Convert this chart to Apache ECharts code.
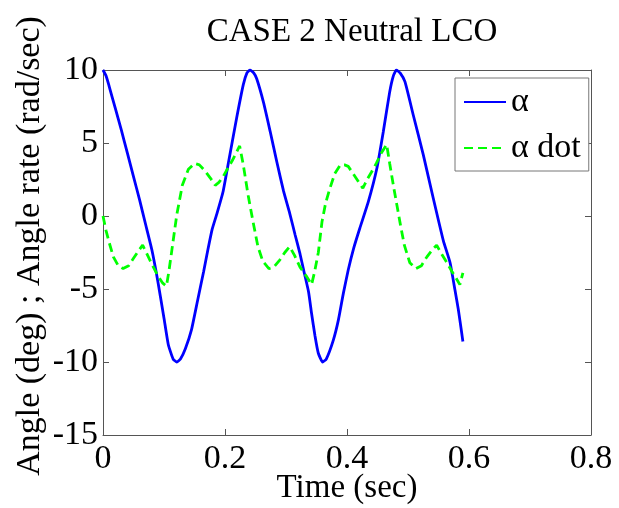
<!DOCTYPE html>
<html><head><meta charset="utf-8">
<script src="https://cdn.jsdelivr.net/npm/echarts@6/dist/echarts.min.js"></script>
<style>html,body{margin:0;padding:0;background:#fff}#c{width:619px;height:508px}</style>
</head><body><div id="c"></div>
<script>
const titleText = 'CASE 2 Neutral LCO';
const xName = 'Time (sec)';
const yName = 'Angle (deg) ; Angle rate (rad/sec)';
const seriesNames = ['\u03b1', '\u03b1 dot'];
const xTicks = [0, 0.2, 0.4, 0.6, 0.8];
const yTicks = [-15, -10, -5, 0, 5, 10];

const alphaT = [0.000,0.005,0.010,0.020,0.030,0.040,0.050,0.060,0.070,0.080,0.090,0.100,0.107,0.115,0.121,0.127,0.135,0.145,0.155,0.165,0.172,0.179,0.187,0.197,0.208,0.219,0.230,0.236,0.241,0.247,0.252,0.263,0.274,0.285,0.296,0.306,0.315,0.323,0.330,0.337,0.342,0.3475,0.353,0.360,0.366,0.3776,0.386,0.394,0.402,0.411,0.421,0.435,0.449,0.4595,0.470,0.476,0.481,0.487,0.495,0.5087,0.525,0.5415,0.558,0.569,0.577,0.5825,0.588,0.590];
const alphaV = [10,9.6,8.9,7.4,5.9,4.3,2.7,1.1,-0.6,-2.3,-4.5,-7.0,-8.8,-9.8,-10,-9.8,-9.1,-7.8,-5.8,-3.8,-2.3,-0.9,0.2,1.7,4.2,6.7,9.0,9.8,10,9.8,9.4,7.8,5.8,3.7,1.7,0.2,-1.3,-2.6,-3.9,-5.2,-6.7,-8.2,-9.4,-10,-9.8,-8.5,-7.1,-5.3,-3.7,-2.2,-0.84,0.98,3.27,5.77,8.5,9.6,10,9.8,9.2,6.9,4.2,1.2,-1.7,-3.2,-5.07,-6.4,-8.0,-8.6];

const rateT = [0,0.005,0.01,0.017,0.025,0.033,0.042,0.05,0.058,0.065,0.072,0.08,0.09,0.098,0.104,0.108,0.113,0.121,0.13,0.14,0.15,0.158,0.167,0.176,0.184,0.19,0.197,0.205,0.212,0.218,0.224,0.23,0.238,0.246,0.254,0.262,0.272,0.28,0.29,0.298,0.306,0.314,0.323,0.333,0.342,0.347,0.353,0.359,0.365,0.372,0.38,0.389,0.396,0.402,0.41,0.418,0.426,0.433,0.44,0.448,0.456,0.465,0.47,0.476,0.482,0.488,0.494,0.503,0.513,0.522,0.531,0.54,0.547,0.555,0.564,0.572,0.578,0.585,0.59];
const rateV = [0,-1.0,-1.8,-2.8,-3.4,-3.6,-3.4,-2.9,-2.4,-2.0,-2.6,-3.3,-4.1,-4.6,-4.8,-3.8,-2.3,0.1,2.1,3.2,3.6,3.5,3.1,2.6,2.1,2.3,2.7,3.3,3.8,4.3,4.8,3.5,1.4,-0.4,-2.1,-3.1,-3.6,-3.5,-3.0,-2.5,-2.1,-2.7,-3.5,-4.1,-4.7,-3.8,-2.5,-0.4,0.9,1.9,2.9,3.5,3.5,3.4,2.9,2.4,1.9,2.5,3.0,3.6,4.3,4.9,3.6,2.1,0.7,-0.7,-2.0,-3.2,-3.6,-3.4,-2.8,-2.3,-2.0,-2.6,-3.2,-3.8,-4.2,-4.7,-3.9];

const FONT = '"Liberation Serif", "Times New Roman", serif';
const AX = '#555';
const zip = (a, b) => a.map((t, i) => [t, b[i]]);

const chart = echarts.init(document.getElementById('c'), null, {renderer: 'canvas'});

function xAx(pos, labels) {
  return {
    type: 'value', position: pos,
    min: xTicks[0], max: xTicks[xTicks.length - 1], interval: xTicks[1] - xTicks[0],
    axisLine: {show: true, onZero: false, lineStyle: {color: AX, width: 1}},
    axisTick: {show: true, inside: true, length: 6, lineStyle: {color: AX}},
    axisLabel: {show: labels, color: '#000', fontFamily: FONT, fontSize: 34, margin: 7},
    splitLine: {show: false},
    name: labels ? xName : '', nameLocation: 'middle', nameGap: 37, nameMoveOverlap: false,
    nameTextStyle: {color: '#000', fontFamily: FONT, fontSize: 33}
  };
}
function yAx(pos, labels) {
  return {
    type: 'value', position: pos,
    min: yTicks[0], max: yTicks[yTicks.length - 1], interval: yTicks[1] - yTicks[0],
    axisLine: {show: true, onZero: false, lineStyle: {color: AX, width: 1}},
    axisTick: {show: true, inside: true, length: 6, lineStyle: {color: AX}},
    axisLabel: {show: labels, color: '#000', fontFamily: FONT, fontSize: 34, margin: 5},
    splitLine: {show: false}
  };
}

chart.setOption({
  animation: false,
  backgroundColor: '#fff',
  title: {
    text: titleText, left: 347, top: 11, textAlign: 'center',
    textStyle: {color: '#000', fontFamily: FONT, fontSize: 33, fontWeight: 'normal'}
  },
  grid: {left: 103, right: 28, top: 70, bottom: 73, containLabel: false, outerBoundsMode: 'none'},
  xAxis: [xAx('bottom', true), xAx('top', false)],
  yAxis: [yAx('left', true), yAx('right', false)],
  legend: {
    orient: 'vertical', left: 455, top: 78,
    padding: [7, 8, 6, 8], itemWidth: 42, itemHeight: 14, itemGap: 12,
    backgroundColor: '#fff', borderColor: '#777', borderWidth: 1, borderRadius: 0,
    textStyle: {color: '#000', fontFamily: FONT, fontSize: 34, lineHeight: 34},
    data: seriesNames
  },
  graphic: [{
    type: 'text', x: 30, y: 246, rotation: Math.PI / 2,
    style: {text: yName, fill: '#000', font: '34px ' + FONT, align: 'center', verticalAlign: 'middle', textAlign: 'center', textVerticalAlign: 'middle'}
  }],
  series: [
    {
      name: seriesNames[0], type: 'line', data: zip(alphaT, alphaV),
      showSymbol: false, smooth: 0.15, itemStyle: {color: '#0000ff', opacity: 0},
      lineStyle: {color: '#0000ff', width: 2.8}
    },
    {
      name: seriesNames[1], type: 'line', data: zip(rateT, rateV),
      showSymbol: false, smooth: false, itemStyle: {color: '#00ff00', opacity: 0},
      lineStyle: {color: '#00ff00', width: 2.8, type: [9, 5]}
    }
  ]
});
</script>
</body></html>
